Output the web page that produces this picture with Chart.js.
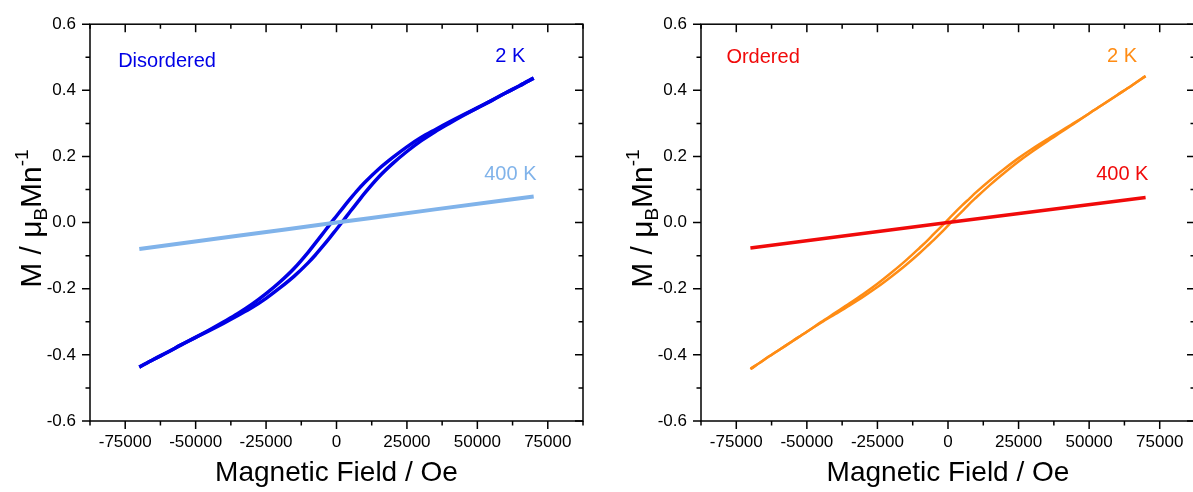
<!DOCTYPE html>
<html lang="en">
<head>
<meta charset="UTF-8">
<title>Magnetization loops</title>
<script src="https://cdn.jsdelivr.net/npm/chart.js"></script>
<style>
  html, body { margin: 0; padding: 0; background: #fff; overflow: hidden; }
  canvas { position: absolute; top: 0; }
  #left { left: 0; }
  #right { left: 596px; }
</style>
</head>
<body>
<canvas id="left" width="596" height="492"></canvas>
<canvas id="right" width="600" height="492"></canvas>
<script>
// field grid for the 2 K loops (Oe)
const field2K = [-70000, -65000, -60000, -55000, -50000, -45000, -40000, -35000, -30000, -25000, -20000, -15000, -10000,
                 -7500, -5000, -2500, 0, 2500, 5000, 7500,
                 10000, 15000, 20000, 25000, 30000, 35000, 40000, 45000, 50000, 55000, 60000, 65000, 70000];

// disordered, 2 K (descending / ascending branch)
const disordered2KDown = [-0.437, -0.414, -0.392, -0.369, -0.347, -0.324, -0.300, -0.275, -0.247, -0.215, -0.179, -0.138, -0.089,
                          -0.062, -0.035, -0.007, 0.020, 0.047, 0.073, 0.098,
                          0.121, 0.162, 0.197, 0.229, 0.257, 0.281, 0.304, 0.326, 0.347, 0.369, 0.392, 0.414, 0.437];
const disordered2KUp = [-0.437, -0.414, -0.392, -0.369, -0.347, -0.326, -0.304, -0.281, -0.257, -0.229, -0.197, -0.162, -0.121,
                        -0.098, -0.073, -0.047, -0.020, 0.007, 0.035, 0.062,
                        0.089, 0.138, 0.179, 0.215, 0.247, 0.275, 0.300, 0.324, 0.347, 0.369, 0.392, 0.414, 0.437];

// ordered, 2 K
const ordered2KDown = [-0.443, -0.414, -0.386, -0.358, -0.330, -0.301, -0.273, -0.245, -0.216, -0.185, -0.151, -0.115, -0.076,
                       -0.056, -0.034, -0.013, 0.009, 0.031, 0.052, 0.072,
                       0.092, 0.129, 0.163, 0.195, 0.224, 0.251, 0.277, 0.303, 0.330, 0.358, 0.386, 0.414, 0.443];
const ordered2KUp = [-0.443, -0.414, -0.386, -0.358, -0.330, -0.303, -0.277, -0.251, -0.224, -0.195, -0.163, -0.129, -0.092,
                     -0.072, -0.052, -0.031, -0.009, 0.013, 0.034, 0.056,
                     0.076, 0.115, 0.151, 0.185, 0.216, 0.245, 0.273, 0.301, 0.330, 0.358, 0.386, 0.414, 0.443];

// 400 K lines
const field400K = [-70000, -35000, 0, 35000, 70000];
const disordered400K = [-0.080, -0.040, 0.000, 0.040, 0.079];
const ordered400K = [-0.077, -0.038, 0.000, 0.038, 0.076];

const xTicks = [-75000, -50000, -25000, 0, 25000, 50000, 75000];
const yTicks = [-0.6, -0.4, -0.2, 0, 0.2, 0.4, 0.6];

const FONT = "'Liberation Sans', Arial, sans-serif";
const BLUE = '#0000e6';
const LIGHTBLUE = '#80b3ea';
const ORANGE = '#ff8c14';
const RED = '#f00a0a';

function pts(xs, ys) {
    return xs.map((x, i) => ({ x: x, y: ys[i] }));
}

// frame with inward ticks on top/right, outward on bottom/left, y title and text labels
const framePlugin = {
    id: 'frame',
    afterDraw(chart, args, opts) {
        const { ctx, chartArea: a } = chart;
        const x = chart.scales.x, y = chart.scales.y;
        ctx.save();
        ctx.strokeStyle = '#000';
        ctx.lineWidth = 1.5;
        ctx.strokeRect(a.left, a.top, a.right - a.left, a.bottom - a.top);
        ctx.beginPath();
        for (let v = -87500; v <= 87500; v += 12500) {
            const px = x.getPixelForValue(v);
            const len = v % 25000 === 0 ? 8 : 4.5;
            ctx.moveTo(px, a.bottom); ctx.lineTo(px, a.bottom + len);
            ctx.moveTo(px, a.top); ctx.lineTo(px, a.top + len);
        }
        for (let i = 0; i <= 12; i++) {
            const py = y.getPixelForValue(-0.6 + i * 0.1);
            const len = i % 2 === 0 ? 8 : 4.5;
            ctx.moveTo(a.left - len, py); ctx.lineTo(a.left, py);
            ctx.moveTo(a.right - len, py); ctx.lineTo(a.right, py);
        }
        ctx.stroke();

        // y axis title with sub/superscript
        const parts = [
            { t: 'M / \u03bc', s: 30, dy: 0 },
            { t: 'B', s: 19, dy: 6 },
            { t: 'Mn', s: 30, dy: 0 },
            { t: '-1', s: 19, dy: -13 }
        ];
        let w = 0;
        parts.forEach(p => { ctx.font = p.s + 'px ' + FONT; p.w = ctx.measureText(p.t).width; w += p.w; });
        ctx.translate(a.left - 60, (a.top + a.bottom) / 2 - 4);
        ctx.rotate(-Math.PI / 2);
        ctx.fillStyle = '#000';
        ctx.textBaseline = 'alphabetic';
        ctx.textAlign = 'left';
        let cx = -w / 2;
        parts.forEach(p => {
            ctx.font = p.s + 'px ' + FONT;
            ctx.fillText(p.t, cx, 11 + p.dy);
            cx += p.w;
        });
        ctx.restore();

        // in-plot labels
        ctx.save();
        ctx.font = '20px ' + FONT;
        ctx.textBaseline = 'middle';
        opts.labels.forEach(l => {
            ctx.fillStyle = l.color;
            ctx.textAlign = l.align;
            ctx.fillText(l.text, x.getPixelForValue(l.x), y.getPixelForValue(l.y));
        });
        ctx.restore();
    }
};

function makeChart(id, datasets, labels, yWidth, padRight) {
    return new Chart(document.getElementById(id), {
        type: 'scatter',
        data: { datasets: datasets },
        options: {
            responsive: false,
            animation: false,
            devicePixelRatio: 1,
            layout: { padding: { top: 22, right: padRight, left: 0, bottom: 0 } },
            plugins: {
                legend: { display: false },
                tooltip: { enabled: false },
                frame: { labels: labels }
            },
            elements: { point: { radius: 0 } },
            scales: {
                x: {
                    type: 'linear',
                    min: -87500,
                    max: 87500,
                    afterBuildTicks: s => { s.ticks = xTicks.map(v => ({ value: v })); },
                    afterFit: s => { s.height = 71; },
                    grid: { display: false, drawTicks: false },
                    border: { display: false },
                    ticks: {
                        font: { size: 17, family: FONT },
                        color: '#000',
                        padding: 11,
                        maxRotation: 0,
                        autoSkip: false,
                        callback: v => String(v)
                    },
                    title: {
                        display: true,
                        text: 'Magnetic Field / Oe',
                        font: { size: 28, family: FONT },
                        color: '#000',
                        padding: { top: 0, bottom: 2 }
                    }
                },
                y: {
                    type: 'linear',
                    min: -0.6,
                    max: 0.6,
                    afterBuildTicks: s => { s.ticks = yTicks.map(v => ({ value: v })); },
                    afterFit: s => { s.width = yWidth; },
                    grid: { display: false, drawTicks: false },
                    border: { display: false },
                    ticks: {
                        font: { size: 17, family: FONT },
                        color: '#000',
                        padding: 14,
                        callback: v => v.toFixed(1)
                    }
                }
            }
        },
        plugins: [framePlugin]
    });
}

function line(data, color, width) {
    return {
        data: data,
        showLine: true,
        borderColor: color,
        backgroundColor: color,
        borderWidth: width,
        pointRadius: 0,
        cubicInterpolationMode: 'monotone'
    };
}

makeChart('left', [
    line(pts(field400K, disordered400K), LIGHTBLUE, 4),
    line(pts(field2K, disordered2KDown), BLUE, 3.5),
    line(pts(field2K, disordered2KUp), BLUE, 3.5)
], [
    { text: 'Disordered', x: -77500, y: 0.487, color: BLUE, align: 'left' },
    { text: '2 K', x: 67000, y: 0.503, color: BLUE, align: 'right' },
    { text: '400 K', x: 71000, y: 0.147, color: LIGHTBLUE, align: 'right' }
], 90, 13);

makeChart('right', [
    line(pts(field400K, ordered400K), RED, 3.5),
    line(pts(field2K, ordered2KDown), ORANGE, 2.5),
    line(pts(field2K, ordered2KUp), ORANGE, 2.5)
], [
    { text: 'Ordered', x: -78500, y: 0.50, color: RED, align: 'left' },
    { text: '2 K', x: 67000, y: 0.503, color: ORANGE, align: 'right' },
    { text: '400 K', x: 71000, y: 0.147, color: RED, align: 'right' }
], 105, 1);
</script>
</body>
</html>
